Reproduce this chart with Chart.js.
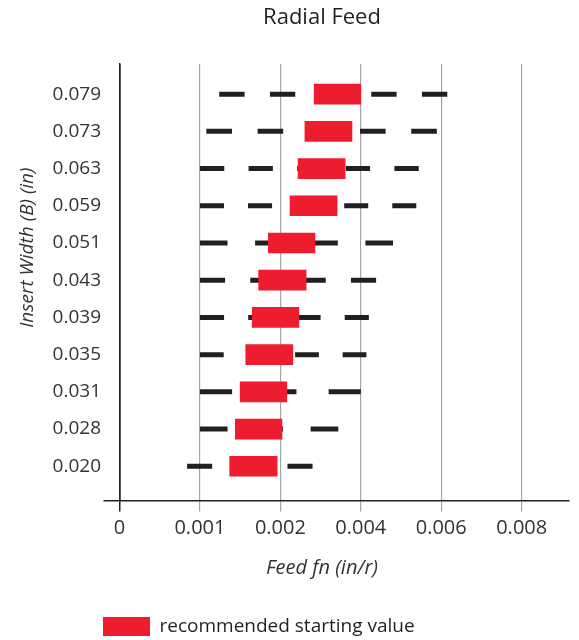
<!DOCTYPE html>
<html>
<head>
<meta charset="utf-8">
<title>Radial Feed</title>
<script src="https://cdn.jsdelivr.net/npm/chart.js@4.4.1/dist/chart.umd.min.js"></script>
<style>
  html, body { margin: 0; padding: 0; background: #fff; }
  canvas { display: block; }
</style>
</head>
<body>
<canvas id="feedChart" width="579" height="640"></canvas>
<script>
// insert widths (B), top row first
var widths = ['0.079', '0.073', '0.063', '0.059', '0.051', '0.043', '0.039', '0.035', '0.031', '0.028', '0.020'];

// full feed range for each width (dashed line)
var rangeMin = [0.00124, 0.00108, 0.001, 0.001, 0.001, 0.001, 0.001, 0.001, 0.001, 0.001, 0.00084];
var rangeMax = [0.00615, 0.00589, 0.00544, 0.00538, 0.0048, 0.00438, 0.0042, 0.00414, 0.004, 0.00344, 0.0028];

// recommended starting value (red bar)
var recLow = [0.00284, 0.00261, 0.00244, 0.00224, 0.00185, 0.00173, 0.00165, 0.00157, 0.0015, 0.00144, 0.00137];
var recHigh = [0.004, 0.00378, 0.00361, 0.00341, 0.00286, 0.00264, 0.00246, 0.00231, 0.00216, 0.00204, 0.00196];

// feed axis ticks, drawn equally spaced
var feedTicks = [0, 0.001, 0.002, 0.004, 0.006, 0.008];
var feedTickLabels = ['0', '0.001', '0.002', '0.004', '0.006', '0.008'];

// styling
var dashCounts = [5, 5, 5, 5, 4, 4, 4, 4, 3, 3, 3];
var RED = '#ed1c2e';
var DARK = '#231f20';
var GRID = '#a6a6a6';
var Y_MIN = -0.81, Y_MAX = 10.92;

Chart.defaults.font.family = "'Open Sans', 'Noto Sans', sans-serif";
Chart.defaults.color = '#333333';

// feed value -> position on the equally spaced tick axis
function toAxis(v) {
	for (var i = 1; i < feedTicks.length; i++) {
		if (v <= feedTicks[i] || i === feedTicks.length - 1) {
			return (i - 1) + (v - feedTicks[i - 1]) / (feedTicks[i] - feedTicks[i - 1]);
		}
	}
	return 0;
}

var barData = [], lineData = [];
for (var i = 0; i < widths.length; i++) {
	barData.push({ y: i, x: [toAxis(recLow[i]), toAxis(recHigh[i])] });
	lineData.push({ x: toAxis(rangeMin[i]), y: i });
	lineData.push({ x: toAxis(rangeMax[i]), y: i });
	lineData.push({ x: null, y: null });
}

// move the legend under the y labels
var legendSpot = {
	id: 'legendSpot',
	afterLayout: function (chart) {
		chart.legend.left = 93;
		chart.legend.top = 607;
	}
};

// leading blanks lift the rotated y title a little above centre
var yTitle = '\u00a0'.repeat(14) + 'Insert Width (B) (in)';

var ctx = document.getElementById('feedChart').getContext('2d');
var chart = new Chart(ctx, {
	type: 'bar',
	data: {
		datasets: [{
			type: 'bar',
			label: 'recommended starting value',
			indexAxis: 'y',
			data: barData,
			backgroundColor: RED,
			borderWidth: 0,
			barThickness: 20,
			xAxisID: 'x',
			yAxisID: 'y',
			order: 0
		}, {
			type: 'line',
			label: 'range',
			data: lineData,
			borderColor: DARK,
			borderWidth: 5,
			borderCapStyle: 'butt',
			pointRadius: 0,
			pointHoverRadius: 0,
			fill: false,
			spanGaps: false,
			xAxisID: 'x',
			yAxisID: 'y',
			order: 1,
			segment: {
				borderDash: function (c) {
					var n = dashCounts[Math.floor(c.p0DataIndex / 3)];
					var d = Math.abs(c.p1.x - c.p0.x) / (2 * n - 1);
					return [d, d];
				}
			}
		}]
	},
	options: {
		responsive: false,
		animation: false,
		devicePixelRatio: 1,
		layout: { padding: { left: 0, right: 9.5, top: 0, bottom: 0 } },
		scales: {
			x: {
				type: 'linear',
				min: 0,
				max: 5.035,
				offset: false,
				afterBuildTicks: function (s) {
					s.ticks = feedTicks.map(function (f, k) { return { value: k }; });
				},
				afterFit: function (s) { s.height = 100.5; },
				ticks: {
					callback: function (v) { return feedTickLabels[v]; },
					font: { size: 20 },
					color: '#333333',
					padding: 5,
					maxRotation: 0,
					autoSkip: false
				},
				grid: {
					offset: false,
					color: function (c) { return c.index === 0 ? DARK : GRID; },
					lineWidth: function (c) { return c.index === 0 ? 1.5 : 1.2; },
					tickLength: 11
				},
				border: { color: DARK, width: 1.5 },
				title: {
					display: true,
					text: 'Feed fn (in/r)',
					font: { size: 20, style: 'italic' },
					color: '#333333',
					padding: { top: 0, bottom: 21 }
				}
			},
			y: {
				type: 'linear',
				reverse: true,
				min: Y_MIN,
				max: Y_MAX,
				offset: false,
				afterBuildTicks: function (s) {
					s.ticks = widths.map(function (w, k) { return { value: k }; }).concat([{ value: Y_MAX }]);
				},
				afterFit: function (s) { s.width = 119.5; },
				ticks: {
					callback: function (v) { return widths[v] || ''; },
					font: { size: 19 },
					color: '#333333',
					padding: 2.5,
					autoSkip: false
				},
				grid: {
					offset: false,
					drawOnChartArea: false,
					tickLength: 16,
					color: function (c) { return c.tick && c.tick.value === Y_MAX ? DARK : 'rgba(0,0,0,0)'; },
					lineWidth: 1.5
				},
				border: { color: DARK, width: 1.5 },
				title: {
					display: true,
					text: yTitle,
					font: { size: 19, style: 'italic' },
					color: '#333333',
					padding: { top: 16.6, bottom: 0 }
				}
			},
			y2: {
				axis: 'y',
				type: 'linear',
				position: 'right',
				min: 0,
				max: 1,
				offset: false,
				afterBuildTicks: function (s) { s.ticks = [{ value: 0 }]; },
				afterFit: function (s) { s.width = 45; },
				ticks: { display: false },
				grid: {
					offset: false,
					drawOnChartArea: false,
					tickLength: 45,
					color: DARK,
					lineWidth: 1.5
				},
				border: { display: false }
			}
		},
		plugins: {
			title: {
				display: true,
				text: 'Radial Feed',
				fullSize: false,
				font: { size: 22, weight: 'normal' },
				color: DARK,
				padding: { top: 5, bottom: 32.6 }
			},
			legend: {
				position: 'bottom',
				align: 'start',
				labels: {
					boxWidth: 47,
					boxHeight: 19,
					font: { size: 19 },
					color: DARK,
					padding: 10,
					filter: function (item) { return item.datasetIndex === 0; }
				}
			},
			tooltip: { enabled: false }
		}
	},
	plugins: [legendSpot]
});
</script>
</body>
</html>
